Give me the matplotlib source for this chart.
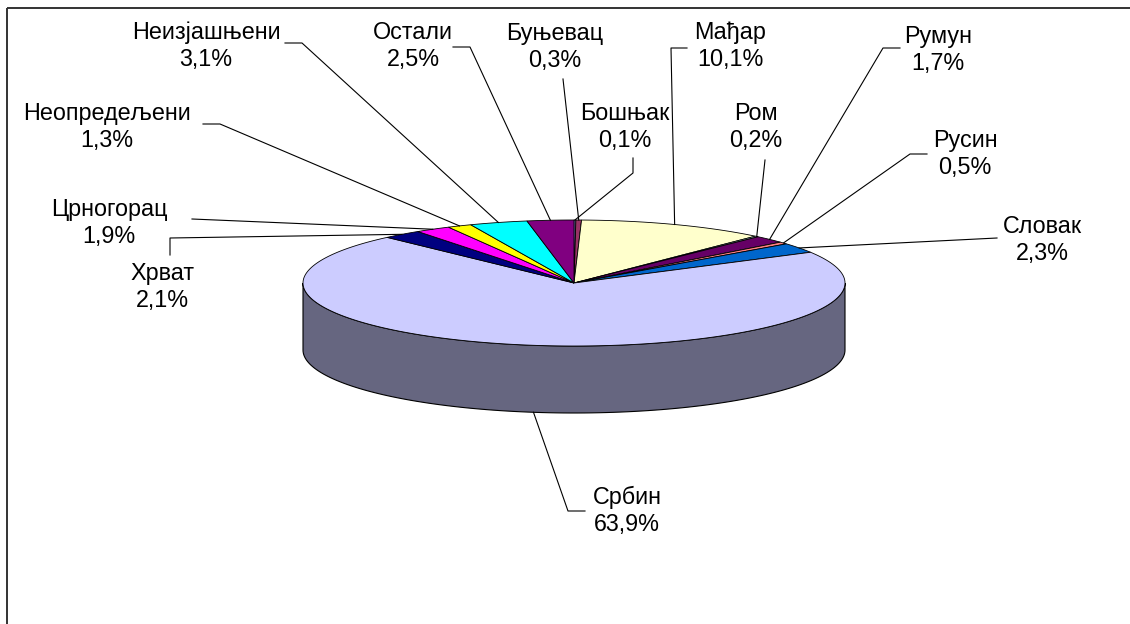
import numpy as np
import matplotlib
matplotlib.use("Agg")
import matplotlib.pyplot as plt
import matplotlib.colors as mcolors
from matplotlib.patches import Polygon, Rectangle

# data (clockwise from 12 o'clock, as in the original)
groups = ['Бошњак', 'Буњевац', 'Мађар', 'Ром', 'Румун', 'Русин', 'Словак',
          'Србин', 'Хрват', 'Црногорац', 'Неопредељени', 'Неизјашњени', 'Остали']
shares = [0.1, 0.3, 10.1, 0.2, 1.7, 0.5, 2.3, 63.9, 2.1, 1.9, 1.3, 3.1, 2.5]
pct_labels = ['0,1%', '0,3%', '10,1%', '0,2%', '1,7%', '0,5%', '2,3%',
              '63,9%', '2,1%', '1,9%', '1,3%', '3,1%', '2,5%']
colors = ['#9999FF', '#993366', '#FFFFCC', '#CCFFFF', '#660066', '#FF8080', '#0066CC',
          '#CCCCFF', '#000080', '#FF00FF', '#FFFF00', '#00FFFF', '#800080']

# layout of the pseudo-3D pie (pixels)
cx, cy, rx, ry, depth = 574, 283, 271, 63, 67

label_pos = {
    'Бошњак': (625, 127), 'Буњевац': (555, 47), 'Мађар': (730, 46),
    'Ром': (756, 127), 'Румун': (938, 50), 'Русин': (965, 154),
    'Словак': (1042, 240), 'Србин': (627, 511), 'Хрват': (162, 287),
    'Црногорац': (109, 223), 'Неопредељени': (107, 127),
    'Неизјашњени': (206, 46), 'Остали': (413, 46),
}
# start of each leader line (label side), before it runs to the slice
leader_start = {
    'Бошњак': [(633, 158), (633, 173)], 'Буњевац': [(563, 79)],
    'Мађар': [(687, 48), (671, 48)], 'Ром': [(765, 160)],
    'Румун': [(900, 48), (883, 48)], 'Русин': [(927, 154), (910, 154)],
    'Словак': [(997, 238)], 'Србин': [(585, 511), (568, 511)],
    'Хрват': [(170, 255), (170, 238)], 'Црногорац': [(192, 219)],
    'Неопредељени': [(203, 124), (220, 124)],
    'Неизјашњени': [(285, 43), (302, 43)], 'Остали': [(453, 47), (470, 47)],
}


def rim(a, dy=0.0):
    t = np.radians(a)
    return cx + rx * np.sin(t), cy - ry * np.cos(t) + dy


plt.rcParams['font.family'] = ['Liberation Sans', 'DejaVu Sans']
fig = plt.figure(figsize=(11.3, 6.24), dpi=100)
ax = fig.add_axes([0, 0, 1, 1])
ax.set_xlim(0, 1130)
ax.set_ylim(624, 0)
ax.axis('off')

ax.add_patch(Rectangle((7, 8), 1300, 800, fill=False, edgecolor='#333333', lw=1.4))

total = sum(shares)
bounds = np.concatenate([[0], np.cumsum(shares)]) / total * 360

# side wall (front half only)
for i, c in enumerate(colors):
    s, e = max(bounds[i], 90), min(bounds[i + 1], 270)
    if e <= s:
        continue
    a = np.linspace(s, e, 120)
    top = np.array(rim(a)).T
    bot = np.array(rim(a[::-1], depth)).T
    dark = tuple(np.array(mcolors.to_rgb(c)) * 0.5)
    ax.add_patch(Polygon(np.vstack([top, bot]), closed=True, facecolor=dark,
                         edgecolor='black', lw=0.8))

# top face
for i, c in enumerate(colors):
    a = np.linspace(bounds[i], bounds[i + 1], max(int(shares[i] * 8), 3))
    pts = np.vstack([[cx, cy], np.array(rim(a)).T])
    ax.add_patch(Polygon(pts, closed=True, facecolor=c, edgecolor='black', lw=0.6))

# labels and leader lines
for i, g in enumerate(groups):
    mid = (bounds[i] + bounds[i + 1]) / 2
    if 90 < mid < 270:
        anchor = rim(mid, depth)
    else:
        anchor = rim(mid)
    path = leader_start[g] + [anchor]
    xs, ys = zip(*path)
    ax.plot(xs, ys, color='black', lw=0.8)
    lx, ly = label_pos[g]
    ax.text(lx, ly, g + '\n' + pct_labels[i], ha='center', va='center',
            multialignment='center', fontsize=16.8, linespacing=1.22, color='black')

fig.savefig('out.png', dpi=100)
